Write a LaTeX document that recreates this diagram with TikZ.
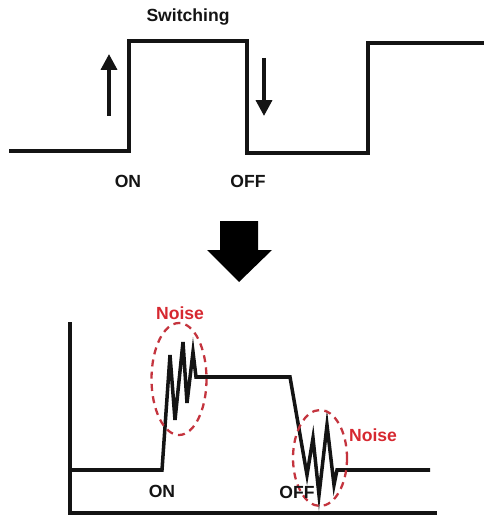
\documentclass[tikz,border=0pt]{standalone}
\usepackage{fontspec}
\setmainfont{Liberation Sans}
\usetikzlibrary{arrows.meta,positioning}
\definecolor{waveInk}{RGB}{20,20,20}
\definecolor{noiseRed}{RGB}{214,40,48}
\definecolor{ringRed}{RGB}{196,52,62}
\tikzset{
  wave/.style={draw=waveInk, line width=2pt, line join=miter},
  axisline/.style={draw=waveInk, line width=1.8pt},
  lbl/.style={font=\bfseries\fontsize{10}{12}\selectfont, text=waveInk, inner sep=0pt},
  noiselbl/.style={lbl, text=noiseRed},
  ring/.style={draw=ringRed, line width=1.3pt, dash pattern=on 4pt off 3pt},
  dirarrow/.style={-{Triangle[length=9pt,width=9pt]}, line width=2.1pt, draw=waveInk},
  bigarrow/.style={fill=black, draw=none}
}
\begin{document}
\begin{tikzpicture}[x=0.02cm, y=-0.02cm]
  \useasboundingbox (0,0) rectangle (484,520);
  % switching signal
  \draw[wave] (9,151) -- (129,151) -- (129,41) -- (247,41) -- (247,153)
    -- (368,153) -- (368,43) -- (484,43);
  \node[lbl] (sw) at (188,17) {Switching};
  \node[lbl] (on1) at (128,181) {ON};
  \node[lbl] (off1) at (248,181) {OFF};
  \coordinate (upA) at (109,116);
  \coordinate (upB) at (109,54);
  \coordinate (dnA) at (264,58);
  \coordinate (dnB) at (264,116);
  \draw[dirarrow] (upA) -- (upB);
  \draw[dirarrow] (dnA) -- (dnB);
  % big arrow
  \fill[bigarrow] (220,221) -- (258,221) -- (258,250) -- (272,250) -- (239,282)
    -- (207,250) -- (220,250) -- cycle;
  % axes
  \coordinate (org) at (70,513);
  \draw[axisline] (70,322) -- (org) -- (437,513);
  % noisy signal
  \draw[wave] (70,470) -- (162,470) -- (170,355) -- (175,420)
    -- (183,342) -- (187,403) -- (193,352) -- (196,377) -- (290,377)
    -- (307,475) -- (313,438) -- (319,495) -- (327,425) -- (334,485)
    -- (337,470) -- (430,470);
  \draw[ring] (179,379) ellipse [x radius=27.5, y radius=56];
  \draw[ring] (320,458) ellipse [x radius=27, y radius=48];
  \node[noiselbl] (n1) at (180,313) {Noise};
  \node[noiselbl] (n2) at (373,435) {Noise};
  \node[lbl] (on2) at (162,491) {ON};
  \node[lbl] (off2) at (297,492) {OFF};
\end{tikzpicture}
\end{document}
